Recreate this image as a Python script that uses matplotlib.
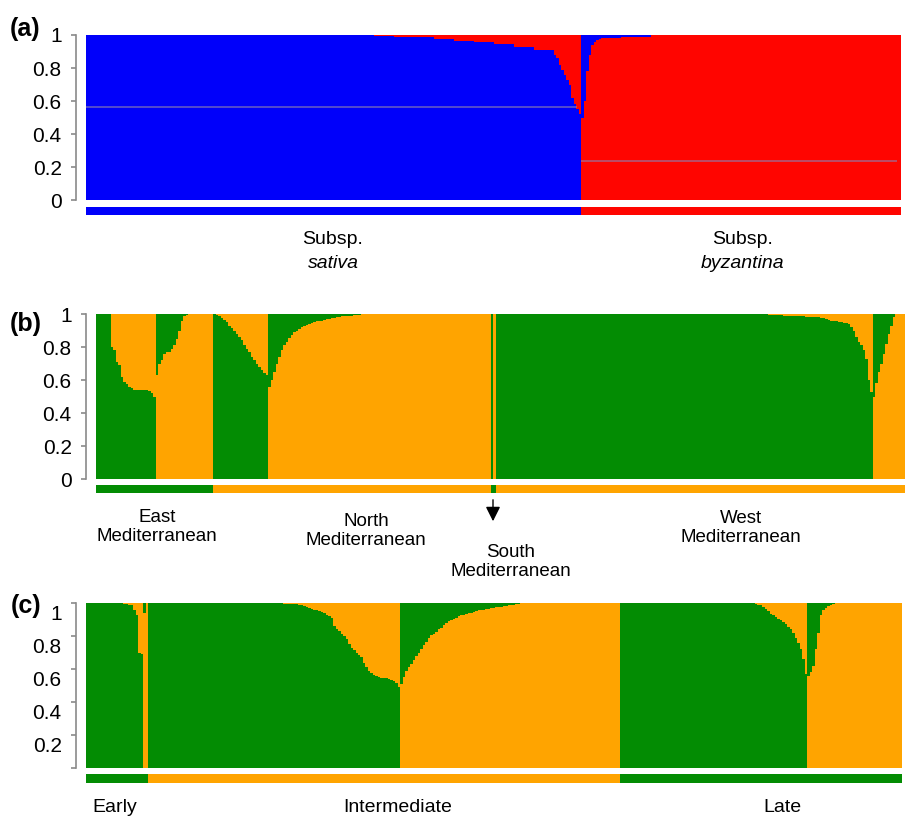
import numpy as np
import matplotlib
matplotlib.use('Agg')
import matplotlib.pyplot as plt
from matplotlib.patches import FancyArrowPatch
from matplotlib.transforms import ScaledTranslation

plt.rcParams['font.family'] = ['Liberation Sans', 'DejaVu Sans']

BLUE = '#0000fa'
RED = '#ff0500'
GREEN = '#038c03'
ORANGE = '#ffa400'

# membership of the cluster drawn at the bottom of each bar, one value per accession;
# (n, q) means n accessions with membership q

# (a) subspecies, K=2
sativa_blue = [(107, 1.0), (8, 0.998), (8, 0.995), (8, 0.99), (8, 0.985), (8, 0.975),
               (8, 0.965), (8, 0.955), (8, 0.945), (8, 0.93), (8, 0.91),
               0.88, 0.86, 0.82, 0.79, 0.76, 0.73, 0.70, 0.62, 0.58, 0.55, 0.52]
byzantina_red = [0.50, 0.60, 0.78, 0.88, 0.94, 0.96, 0.97, 0.975,
                 (8, 0.98), (6, 0.985), (6, 0.99), (100, 1.0)]
a_runs = [sativa_blue, byzantina_red]
a_bottom = [BLUE, RED]
a_strip = [BLUE, RED]
a_mean_lines = [0.565, 0.235]

# (b) geographic origin
east_green = [(6, 1.0), 0.80, 0.78, 0.71, 0.69, 0.62, 0.59, 0.575, 0.56, 0.55,
              (6, 0.54), 0.535, 0.52, 0.50]
east_orange = [0.63, 0.70, 0.72, 0.76, 0.77, 0.77, 0.79, 0.81, 0.85, 0.90, 0.96,
               0.985, 0.995, (10, 1.0)]
north_green = [1.0, 0.995, 0.985, 0.975, 0.965, 0.95, 0.93, 0.915, 0.90, 0.88, 0.86,
               0.84, 0.81, 0.79, 0.77, 0.74, 0.72, 0.70, 0.68, 0.66, 0.645, 0.63]
north_orange = [0.56, 0.60, 0.65, 0.70, 0.74, 0.78, 0.81, 0.83, 0.855, 0.87, 0.89,
                0.90, 0.91, 0.92, 0.93, 0.935, 0.94, 0.945, 0.95, 0.955, (2, 0.96),
                0.965, (2, 0.97), (2, 0.975), (2, 0.98), (2, 0.985), (3, 0.99),
                (3, 0.995), 0.998, (51, 1.0)]
south_green = [1.0, 0.0]
west_green = [(107, 1.0), 0.998, 0.997, 0.996, 0.995, 0.994, 0.993, 0.992, 0.991,
              (3, 0.99), 0.989, 0.988, 0.987, 0.986, (2, 0.985), 0.984, 0.983, 0.982,
              0.981, (2, 0.98), 0.978, 0.975, 0.97, 0.965, 0.96, 0.958, 0.955, 0.953,
              0.95, 0.948, 0.945, 0.94, 0.92, 0.90, 0.86, 0.83, 0.81, 0.78, 0.73,
              0.60, 0.53]
west_orange = [0.50, 0.58, 0.65, 0.70, 0.76, 0.82, 0.88, 0.93, 0.98, (4, 1.0)]
b_runs = [east_green, east_orange, north_green, north_orange, south_green,
          west_green, west_orange]
b_bottom = [GREEN, ORANGE, GREEN, ORANGE, GREEN, GREEN, ORANGE]
b_strip = [GREEN, GREEN, ORANGE, ORANGE, GREEN, ORANGE, ORANGE]

# (c) flowering time
early_green = [(13, 1.0), 0.998, 0.997, 0.995, 0.993, 0.99, 0.985, 0.96, 0.93,
               0.70, 0.69]
early_orange = [0.94, 1.0]
mid_green = [(48, 1.0), (2, 0.999), (2, 0.998), (2, 0.997), (2, 0.996), (2, 0.995),
             0.994, 0.993, 0.99,
             0.985, 0.98, 0.975, 0.97, 0.965, (2, 0.96), 0.95, 0.945, 0.94, 0.93,
             0.92, 0.91, 0.86, 0.845, 0.83, 0.815, 0.80, 0.78, 0.75, 0.73, 0.715,
             0.70, 0.685, 0.67, 0.635, 0.61, 0.59, 0.575, 0.565, 0.555, 0.55, 0.548,
             (2, 0.545), 0.54, 0.535, 0.525, 0.515, 0.49]
mid_orange = [0.51, 0.55, 0.59, 0.61, 0.63, 0.655, 0.68, 0.70, 0.72, 0.745, 0.765,
              0.79, 0.805, 0.815, 0.825, 0.84, 0.85, 0.865, 0.88, 0.89, 0.90, 0.905,
              0.91, 0.92, 0.925, 0.93, 0.935, (2, 0.94), 0.945, 0.95, 0.955,
              (2, 0.96), (2, 0.965), (2, 0.97), (2, 0.975), 0.978, 0.98, 0.982,
              0.985, 0.987, 0.99, 0.992, 0.995, 0.998, (39, 1.0)]
late_green = [(53, 1.0), 0.998, 0.995, 0.99, 0.985, 0.975, 0.965, 0.95, 0.935, 0.925,
              0.915, 0.905, 0.895, 0.885, 0.87, 0.855, 0.84, 0.82, 0.79, 0.76, 0.72,
              0.66, 0.57]
late_orange = [0.56, 0.58, 0.62, 0.72, 0.82, 0.93, 0.96, 0.97, 0.98, 0.99, 0.995,
               0.998, (26, 1.0)]
c_runs = [early_green, early_orange, mid_green, mid_orange, late_green, late_orange]
c_bottom = [GREEN, ORANGE, GREEN, ORANGE, GREEN, ORANGE]
c_strip = [GREEN, GREEN, ORANGE, ORANGE, GREEN, GREEN]

y_ticks = [0, 0.2, 0.4, 0.6, 0.8, 1]
y_labels = ['0', '0.2', '0.4', '0.6', '0.8', '1']

W, H = 905, 816


def expand(runs):
    """Unpack a list of single values and (count, value) runs."""
    out = []
    for r in runs:
        if isinstance(r, tuple):
            out.extend([r[1]] * r[0])
        else:
            out.append(r)
    return np.array(out, dtype=float)


def fig_xy(x, y):
    """Pixel position (from top left) to figure fraction."""
    return x / W, 1 - y / H


def add_axes(fig, left, top, right, bottom):
    return fig.add_axes([left / W, 1 - bottom / H, (right - left) / W, (bottom - top) / H])


def structure_plot(ax, runs, bottoms, strips, pair, strip_band):
    start = 0
    spans = []
    for r, bot, st in zip(runs, bottoms, strips):
        q = expand(r)
        top = pair[1] if bot == pair[0] else pair[0]
        edges = np.arange(start, start + len(q) + 1)
        qq = np.append(q, q[-1])
        ax.fill_between(edges, 0, qq, step='post', color=bot, lw=0, antialiased=False)
        ax.fill_between(edges, qq, 1, step='post', color=top, lw=0, antialiased=False)
        ax.fill_between([start, start + len(q)], strip_band[0], strip_band[1],
                        color=st, lw=0, antialiased=False)
        spans.append((start, start + len(q)))
        start += len(q)
    ax.set_xlim(0, start)
    ax.set_ylim(strip_band[0], 1)

    for side in ['top', 'right', 'bottom']:
        ax.spines[side].set_visible(False)
    ax.spines['left'].set_position(('outward', 7))
    ax.spines['left'].set_bounds(0, 1)
    ax.spines['left'].set_color('#8a8a8a')
    ax.spines['left'].set_linewidth(1.2)
    ax.set_xticks([])
    ax.set_yticks(y_ticks)
    ax.set_yticklabels(y_labels)
    ax.tick_params(axis='y', length=3.5, width=1.2, color='#8a8a8a', pad=7, labelsize=15)
    ax.patch.set_visible(False)
    return spans


fig = plt.figure(figsize=(W / 100, H / 100), dpi=100)

ax_a = add_axes(fig, 86, 35, 901, 215)
spans_a = structure_plot(ax_a, a_runs, a_bottom, a_strip, (BLUE, RED), (-0.0909, -0.0424))
for (s, e), level in zip(spans_a, a_mean_lines):
    ax_a.hlines(level, s, e - 1.5, color='#8c80b0', lw=1.1, alpha=0.75)

ax_b = add_axes(fig, 96, 314, 905, 493)
structure_plot(ax_b, b_runs, b_bottom, b_strip, (GREEN, ORANGE), (-0.0848, -0.036))

ax_c = add_axes(fig, 86, 603, 902, 783)
structure_plot(ax_c, c_runs, c_bottom, c_strip, (GREEN, ORANGE), (-0.0909, -0.036))
ax_c.set_yticklabels([''] + y_labels[1:])
shift = ScaledTranslation(0, -0.09, fig.dpi_scale_trans)
for lab in ax_c.get_yticklabels():
    lab.set_transform(lab.get_transform() + shift)

# panel letters
for letter, (x, y) in zip(['(a)', '(b)', '(c)'], [(25, 29), (26, 324), (26, 606)]):
    fig.text(*fig_xy(x, y), letter, fontsize=18, fontweight='bold', ha='center', va='center')

# group names under the strips
fig.text(*fig_xy(333, 240), 'Subsp.', fontsize=14, ha='center', va='center')
fig.text(*fig_xy(333, 263), 'sativa', fontsize=14, ha='center', va='center', style='italic')
fig.text(*fig_xy(743, 240), 'Subsp.', fontsize=14, ha='center', va='center')
fig.text(*fig_xy(743, 263), 'byzantina', fontsize=14, ha='center', va='center', style='italic')

for name, (x, y) in zip(['East\nMediterranean', 'North\nMediterranean',
                         'South\nMediterranean', 'West\nMediterranean'],
                        [(157, 527), (366, 531), (511, 562), (741, 528)]):
    fig.text(*fig_xy(x, y), name, fontsize=13.5, ha='center', va='center', linespacing=1.15)

fig.add_artist(FancyArrowPatch(fig_xy(493, 497), fig_xy(493, 524), transform=fig.transFigure,
                               arrowstyle='-|>', mutation_scale=22, color='black', lw=1))

for name, x in zip(['Early', 'Intermediate', 'Late'], [115, 398, 782]):
    fig.text(*fig_xy(x, 807), name, fontsize=14, ha='center', va='center')

fig.savefig('out.png', dpi=100)
